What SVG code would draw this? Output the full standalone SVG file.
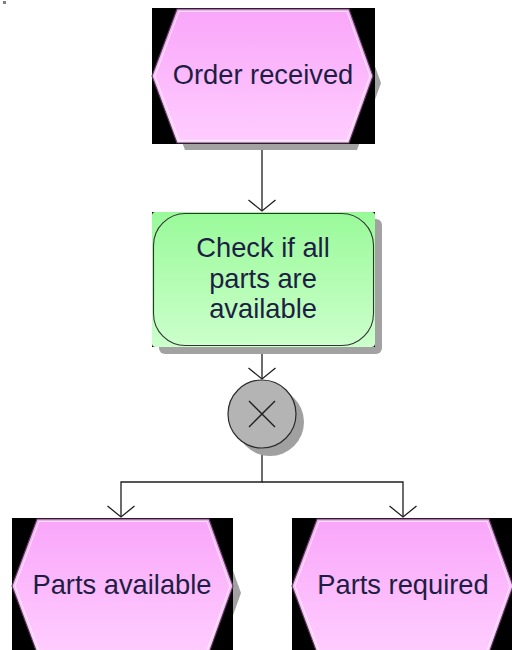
<svg xmlns="http://www.w3.org/2000/svg" width="512" height="650" viewBox="0 0 512 650">
  <style>
    .bg { fill: #000000; }
    .shadow { fill: #a2a2a2; }
    .hex { fill: url(#pink); stroke: #5a3a5a; stroke-width: 1.1; }
    .hexin { fill: none; stroke: #ffffff; stroke-width: 1; opacity: 0.75; }
    .label { font-family: "Liberation Sans", Arial, sans-serif; font-size: 27.3px; fill: #1e1e44; text-anchor: middle; }
    .conn { fill: none; stroke: #1e1e1e; stroke-width: 1.3; }
  </style>
  <defs>
    <linearGradient id="pink" x1="0" y1="0" x2="0" y2="1">
      <stop offset="0" stop-color="#f9a6f9"/>
      <stop offset="1" stop-color="#ffcdff"/>
    </linearGradient>
    <linearGradient id="green" x1="0" y1="0" x2="0" y2="1">
      <stop offset="0" stop-color="#99fa99"/>
      <stop offset="1" stop-color="#ccffcc"/>
    </linearGradient>
    <path id="hexShape" d="M0,67 L25,0 L197,0 L221,67 L197,134 L25,134 Z"/>
    <path id="hexInner" d="M3,67 L27,2.5 L195,2.5 L218,67 L195,131.5 L27,131.5 Z"/>
    <marker id="arrow" viewBox="-13 -15 15 30" markerWidth="15" markerHeight="30" refX="0" refY="0" orient="auto" markerUnits="userSpaceOnUse">
      <path d="M-11,-13.5 L0,0 L-11,13.5" fill="none" stroke="#1e1e1e" stroke-width="1.3"/>
    </marker>
  </defs>

  <rect x="3" y="1" width="3" height="3" fill="#808080"/>

  <g id="connectors">
    <path class="conn" d="M262,144 V211" marker-end="url(#arrow)"/>
    <path class="conn" d="M262,347 V379" marker-end="url(#arrow)"/>
    <path class="conn" d="M262,448 V482 H121 V517" marker-end="url(#arrow)"/>
    <path class="conn" d="M262,482 H403 V517" marker-end="url(#arrow)"/>
  </g>

  <g id="event-order-received" transform="translate(152,8)">
    <use href="#hexShape" class="shadow" transform="translate(8,8)"/>
    <rect class="bg" x="0" y="0" width="223" height="136"/>
    <use href="#hexShape" class="hex" transform="translate(0,1)"/>
    <use href="#hexInner" class="hexin" transform="translate(0,1)"/>
    <text class="label" x="111" y="76">Order received</text>
  </g>

  <g id="function-check-parts">
    <rect x="159" y="219" width="223" height="135" rx="6" fill="#a2a2a2"/>
    <rect class="bg" x="152" y="212" width="223" height="135"/>
    <rect x="152" y="212" width="223" height="135" rx="3.5" fill="url(#green)"/>
    <rect x="153.5" y="213.5" width="220" height="132" rx="32" fill="none" stroke="#333333" stroke-width="1.1"/>
    <text class="label" x="263" y="257">Check if all</text>
    <text class="label" x="263" y="288">parts are</text>
    <text class="label" x="263" y="318">available</text>
  </g>

  <g id="xor-gateway">
    <circle cx="270" cy="422" r="34" fill="#a0a0a0"/>
    <circle cx="262" cy="414" r="34" fill="#b4b4b4" stroke="#2a2a2a" stroke-width="1.2"/>
    <path d="M249,401 L275,427 M275,401 L249,427" stroke="#1e1e1e" stroke-width="1.4" fill="none"/>
  </g>

  <g id="event-parts-available" transform="translate(12,518)">
    <use href="#hexShape" class="shadow" transform="translate(8,8)"/>
    <rect class="bg" x="0" y="0" width="221" height="136"/>
    <use href="#hexShape" class="hex" transform="translate(0,1)"/>
    <use href="#hexInner" class="hexin" transform="translate(0,1)"/>
    <text class="label" x="110" y="76">Parts available</text>
  </g>

  <g id="event-parts-required" transform="translate(292,518)">
    <use href="#hexShape" class="shadow" transform="translate(8,8)"/>
    <rect class="bg" x="0" y="0" width="223" height="136"/>
    <use href="#hexShape" class="hex" transform="translate(0,1)"/>
    <use href="#hexInner" class="hexin" transform="translate(0,1)"/>
    <text class="label" x="111" y="76">Parts required</text>
  </g>
</svg>
